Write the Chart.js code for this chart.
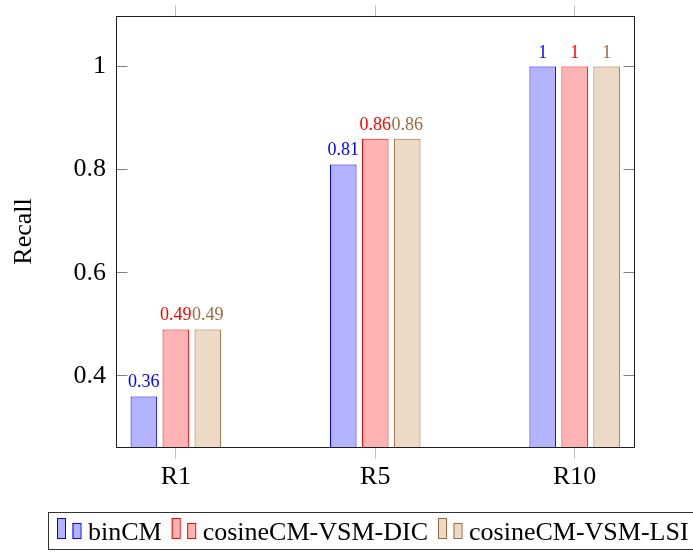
<!DOCTYPE html>
<html>
<head>
<meta charset="utf-8">
<script src="https://cdn.jsdelivr.net/npm/chart.js@4.4.0/dist/chart.umd.min.js"></script>
<style>
  html, body { margin: 0; padding: 0; background: #fff; }
</style>
</head>
<body>
<canvas id="grafico" width="693" height="552"></canvas>
<script>
const categories = ['R1', 'R5', 'R10'];
const seriesNames = ['binCM', 'cosineCM-VSM-DIC', 'cosineCM-VSM-LSI'];
const binCM = [0.36, 0.81, 1];
const cosineDIC = [0.49, 0.86, 1];
const cosineLSI = [0.49, 0.86, 1];
const yTicks = [0.4, 0.6, 0.8, 1];

const serif = "'Liberation Serif', 'Times New Roman', serif";

// pgfplots colours: blue, red, brown and their !30 tints
const lineColors = ['rgb(0,0,255)', 'rgb(255,0,0)', 'rgb(158,106,60)'];
const fillColors = ['rgb(179,179,255)', 'rgb(255,179,179)', 'rgb(236,217,198)'];

const seriesValues = [binCM, cosineDIC, cosineLSI];

function toPoints(values) {
    return values.map((v, i) => ({ x: i, y: v }));
}

const dados = {
    datasets: seriesValues.map((vals, i) => ({
        label: seriesNames[i],
        data: toPoints(vals),
        backgroundColor: fillColors[i],
        borderColor: lineColors[i],
        borderWidth: 1,
        borderSkipped: false,
        categoryPercentage: 0.481,
        barPercentage: 0.83
    }))
};

function noPadding(s) {
    s.paddingTop = 0; s.paddingBottom = 0;
    s.paddingLeft = 0; s.paddingRight = 0;
}

// frame, inside ticks, value labels and the boxed legend
const extras = {
    id: 'extras',
    afterDatasetsDraw(chart) {
        const { ctx, chartArea: a, scales: { x, y } } = chart;
        ctx.save();

        // value labels above bars
        ctx.font = '18px ' + serif;
        ctx.textAlign = 'center';
        ctx.textBaseline = 'alphabetic';
        chart.data.datasets.forEach((ds, i) => {
            chart.getDatasetMeta(i).data.forEach((bar, j) => {
                ctx.fillStyle = ds.borderColor;
                ctx.fillText(String(ds.data[j].y), bar.x, bar.y - 9);
            });
        });

        const L = Math.floor(a.left) + 0.5;
        const R = Math.floor(a.right) + 0.5;
        const T = Math.floor(a.top) + 0.5;
        const B = Math.floor(a.bottom) + 0.5;

        // y ticks, inside on both sides
        ctx.lineWidth = 1;
        ctx.strokeStyle = '#808080';
        ctx.beginPath();
        yTicks.forEach(v => {
            const py = Math.floor(y.getPixelForValue(v)) + 0.5;
            ctx.moveTo(L, py); ctx.lineTo(L + 11, py);
            ctx.moveTo(R, py); ctx.lineTo(R - 11, py);
        });
        ctx.stroke();

        // x ticks, outside top and bottom
        ctx.strokeStyle = '#c0c0c0';
        ctx.beginPath();
        categories.forEach((c, i) => {
            const px = Math.floor(x.getPixelForValue(i)) + 0.5;
            ctx.moveTo(px, T); ctx.lineTo(px, T - 11);
            ctx.moveTo(px, B); ctx.lineTo(px, B + 11);
        });
        ctx.stroke();

        // frame
        ctx.strokeStyle = '#1e1e1e';
        ctx.strokeRect(L, T, R - L, B - T);

        // legend
        ctx.strokeStyle = '#333';
        ctx.strokeRect(48.5, 512.5, 700, 37);
        ctx.font = '26px ' + serif;
        ctx.textAlign = 'left';
        let lx = 57;
        chart.data.datasets.forEach(ds => {
            ctx.fillStyle = ds.backgroundColor;
            ctx.fillRect(lx, 518, 8, 21);
            ctx.fillRect(lx + 15.5, 523, 8, 16);
            ctx.strokeStyle = ds.borderColor;
            ctx.strokeRect(lx + 0.5, 518.5, 8, 20);
            ctx.strokeRect(lx + 16, 523.5, 8, 15);
            ctx.fillStyle = '#000';
            ctx.fillText(ds.label, lx + 31, 540);
            lx += 31 + ctx.measureText(ds.label).width + 10;
        });

        ctx.restore();
    }
};

const config = {
    type: 'bar',
    data: dados,
    options: {
        responsive: false,
        animation: false,
        layout: { padding: { left: 0, top: 16, right: 58.5, bottom: 60 } },
        plugins: {
            legend: { display: false },
            tooltip: { enabled: false }
        },
        scales: {
            x: {
                type: 'linear',
                min: -0.3,
                max: 2.3,
                offset: false,
                grid: { display: false, drawTicks: false, offset: false },
                border: { display: false },
                afterBuildTicks: s => { s.ticks = categories.map((c, i) => ({ value: i })); },
                afterFit: s => { s.height = 45; noPadding(s); },
                ticks: {
                    padding: 15,
                    color: '#000',
                    font: { family: serif, size: 26 },
                    callback: v => categories[v]
                }
            },
            y: {
                min: 0.262,
                max: 1.098,
                grid: { display: false, drawTicks: false },
                border: { display: false },
                afterBuildTicks: s => { s.ticks = yTicks.map(v => ({ value: v })); },
                afterFit: s => { s.width = 116; noPadding(s); },
                ticks: {
                    padding: 10,
                    color: '#000',
                    font: { family: serif, size: 26 },
                    callback: v => String(v)
                },
                title: {
                    display: true,
                    text: 'Recall',
                    color: '#000',
                    padding: { top: 9, bottom: 0 },
                    font: { family: serif, size: 26 }
                }
            }
        }
    },
    plugins: [extras]
};

const ctx = document.getElementById('grafico').getContext('2d');
const grafico = new Chart(ctx, config);
</script>
</body>
</html>
